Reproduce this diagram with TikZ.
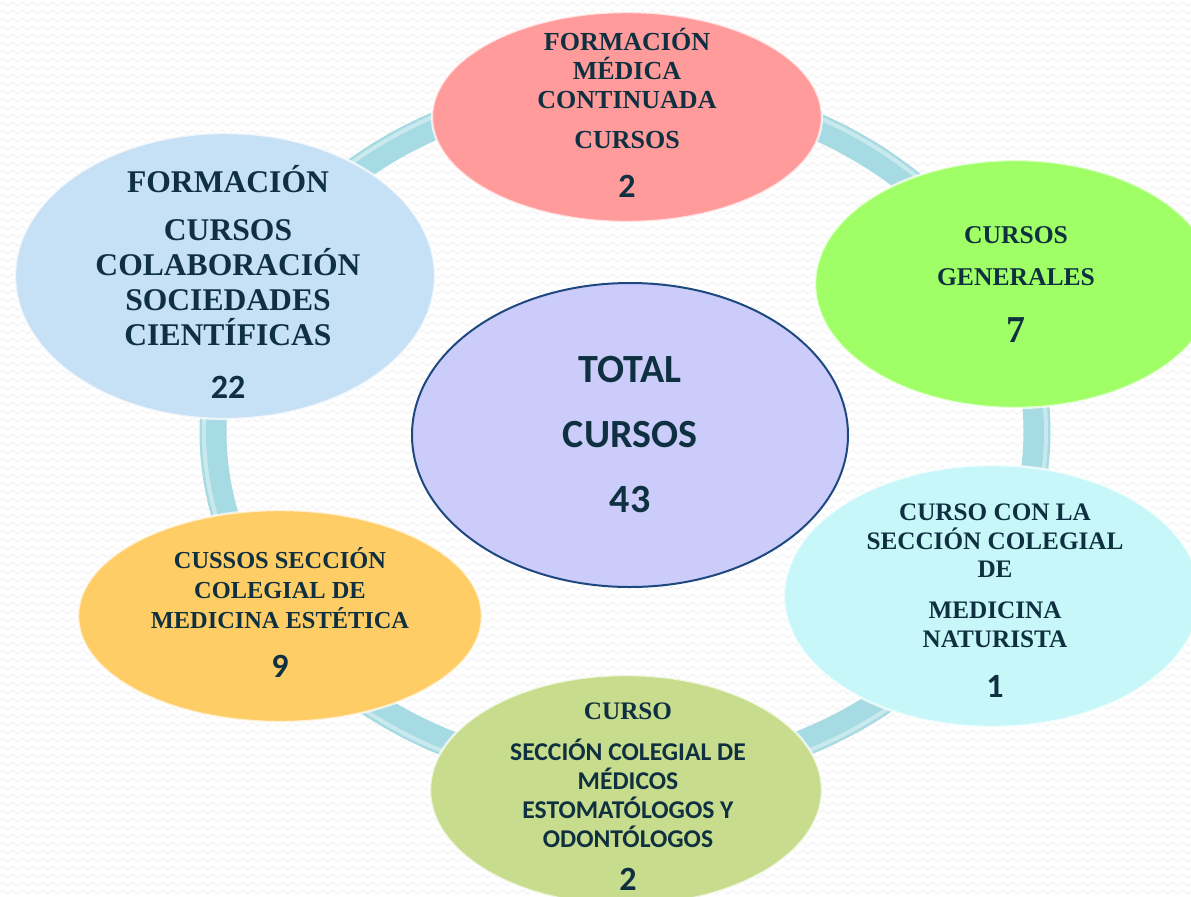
\documentclass[tikz,border=0pt]{standalone}
\usepackage{fontspec}
\setmainfont{Liberation Serif}
\setsansfont{Carlito}
\usetikzlibrary{shapes.geometric,decorations.pathmorphing}

\definecolor{txtc}{RGB}{14,48,64}
\definecolor{ringc}{RGB}{166,219,227}
\definecolor{redf}{RGB}{255,155,155}
\definecolor{bluef}{RGB}{198,224,246}
\definecolor{greenf}{RGB}{160,255,102}
\definecolor{lavf}{RGB}{204,204,250}
\definecolor{lavb}{RGB}{30,72,128}
\definecolor{cyanf}{RGB}{200,247,249}
\definecolor{orangef}{RGB}{255,205,102}
\definecolor{olivef}{RGB}{200,220,142}

\tikzset{
  bub/.style={ellipse, inner sep=0pt, draw=white, line width=1.2pt, draw opacity=.7},
  lbl/.style={text=txtc, align=center, anchor=base},
  num/.style={text=txtc, font=\sffamily\bfseries\fontsize{17}{17}\selectfont, anchor=base},
}

\begin{document}
\begin{tikzpicture}[x=0.5pt, y=-0.5pt]
    % Background
    \useasboundingbox (0,0) rectangle (1191,896);
    \fill[white] (0,0) rectangle (1191,896);
    \begin{scope}
        \clip (0,0) rectangle (1191,896);
        \foreach \r in {4,12,...,896}
            \draw[black!6, decorate, decoration={zigzag, segment length=5pt, amplitude=1pt}] (0,\r) -- (1191,\r);
    \end{scope}

    % Ring
    \coordinate (mid) at (625,432);
    \draw[ringc, line width=13.5pt] (mid) ellipse [x radius=206pt, y radius=172.5pt];
    \draw[white, opacity=.4, line width=2pt] (mid) ellipse [x radius=210.5pt, y radius=177pt];

    % Formacion medica continuada
    \node[bub, fill=redf, minimum width=195pt, minimum height=105pt] (fmc) at (627,117) {};
    \node[lbl, font=\bfseries\fontsize{13}{14.5}\selectfont] (fmc-t) at (627,148) {FORMACIÓN\\MÉDICA\\CONTINUADA\\[5.5pt]CURSOS};
    \node[num] (fmc-n) at (627,197) {2};

    % Sociedades cientificas
    \node[bub, fill=bluef, minimum width=210pt, minimum height=143pt] (soc) at (225,276) {};
    \node[lbl, font=\bfseries\fontsize{15.8}{17.5}\selectfont] (soc-t) at (228,345) {FORMACIÓN\\[6.5pt]CURSOS\\COLABORACIÓN\\SOCIEDADES\\CIENTÍFICAS};
    \node[num] (soc-n) at (228,398) {22};

    % Cursos generales
    \node[bub, fill=greenf, minimum width=200pt, minimum height=124pt] (gen) at (1015,284) {};
    \node[lbl, font=\bfseries\fontsize{12.8}{21}\selectfont] (gen-t) at (1016,285) {CURSOS\\GENERALES};
    \node[lbl, font=\bfseries\fontsize{19}{19}\selectfont] (gen-n) at (1016,342) {7};

    % Medicina naturista
    \node[bub, fill=cyanf, minimum width=208pt, minimum height=131pt] (nat) at (992,596) {};
    \node[lbl, font=\bfseries\fontsize{12.6}{14.25}\selectfont] (nat-t) at (995,647) {CURSO CON LA\\SECCIÓN COLEGIAL\\DE\\[6.25pt]MEDICINA\\NATURISTA};
    \node[num] (nat-n) at (995,697) {1};

    % Estomatologos y odontologos
    \node[bub, fill=olivef, minimum width=196pt, minimum height=115pt] (odo) at (626,790) {};
    \node[lbl, font=\bfseries\fontsize{12.6}{14}\selectfont] (odo-h) at (628,719) {CURSO};
    \node[lbl, font=\sffamily\bfseries\fontsize{12.8}{14.5}\selectfont] (odo-t) at (628,847) {SECCIÓN COLEGIAL DE\\MÉDICOS\\ESTOMATÓLOGOS Y\\ODONTÓLOGOS};
    \node[num] (odo-n) at (628,890) {2};

    % Medicina estetica
    \node[bub, fill=orangef, minimum width=202pt, minimum height=106pt] (est) at (280,616) {};
    \node[lbl, font=\bfseries\fontsize{12.2}{15}\selectfont] (est-t) at (280,628) {CUSSOS SECCIÓN\\COLEGIAL DE\\MEDICINA ESTÉTICA};
    \node[num] (est-n) at (280,677) {9};

    % Total
    \node[bub, fill=lavf, draw=lavb, draw opacity=1, line width=1pt, minimum width=218pt, minimum height=152pt] (tot) at (630,435) {};
    \node[lbl, font=\sffamily\bfseries\fontsize{20}{32.5}\selectfont] (tot-t) at (630,512) {TOTAL\\CURSOS\\43};
\end{tikzpicture}
\end{document}
